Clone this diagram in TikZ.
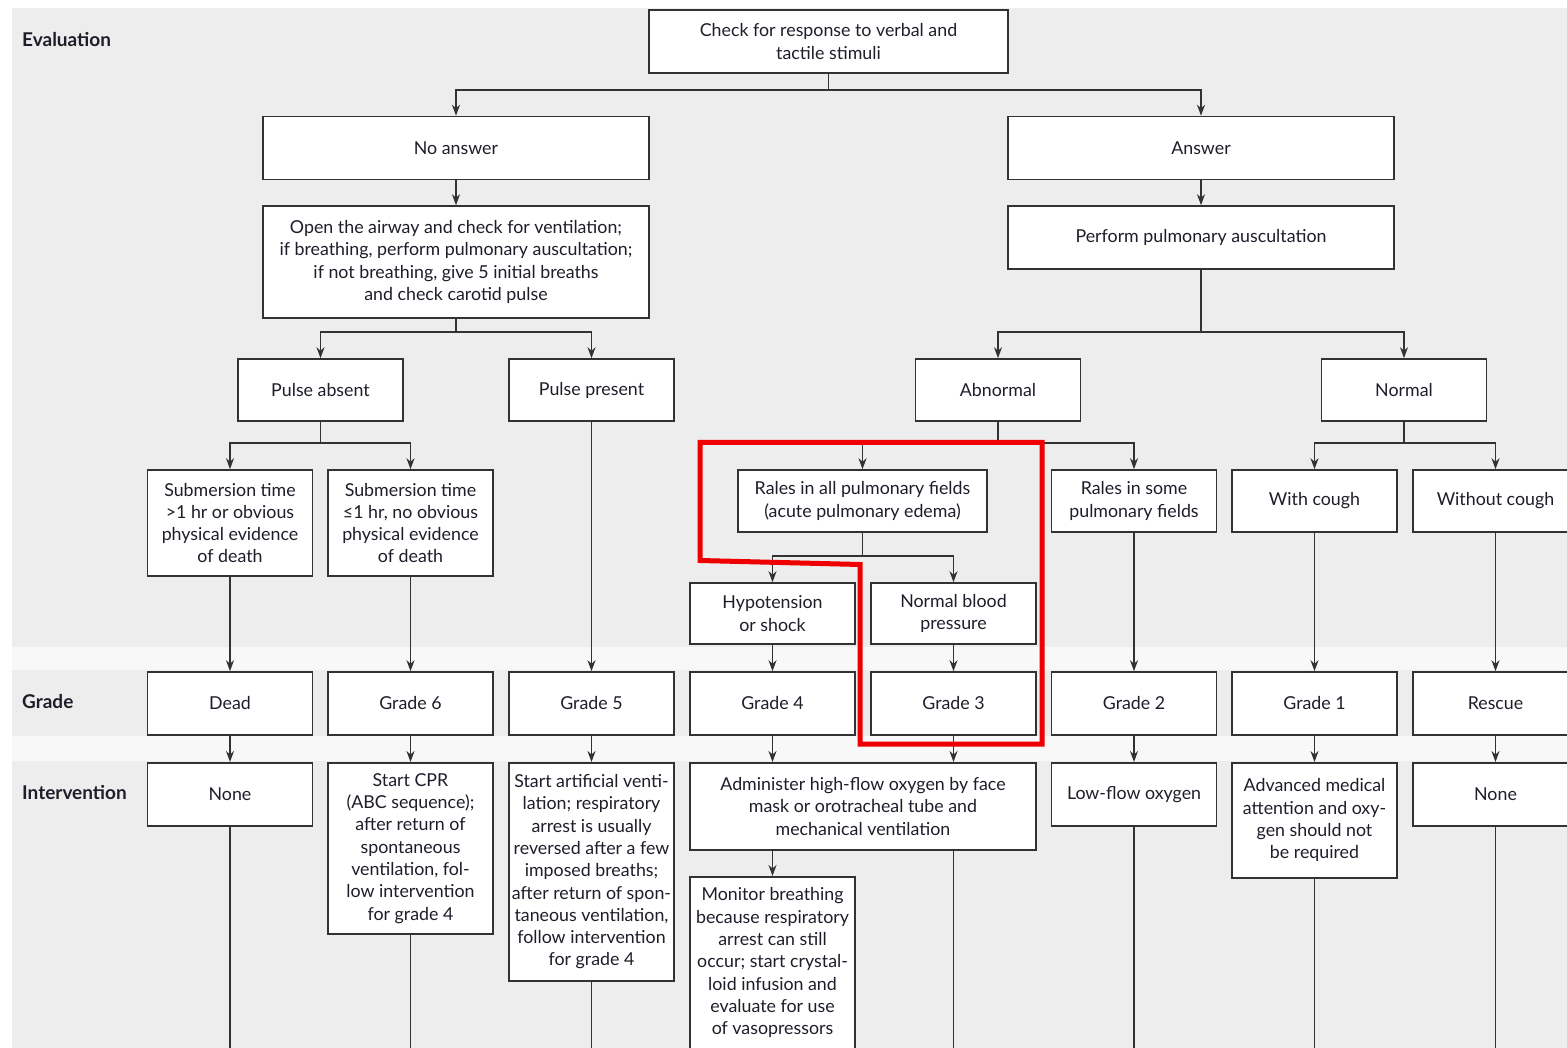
\documentclass[tikz,border=0pt]{standalone}
\usepackage{fontspec}
\setmainfont{Lato}
\usetikzlibrary{arrows.meta}
\definecolor{bggray}{RGB}{237,237,237}
\definecolor{bglight}{RGB}{248,248,248}
\definecolor{boxline}{RGB}{50,50,50}
\definecolor{inktext}{RGB}{30,30,42}
\definecolor{markred}{RGB}{238,0,0}

\begin{document}
\begin{tikzpicture}[x=1pt,y=-1pt,
        box/.style={draw=boxline,fill=white,line width=1.6pt,align=center,inner sep=0pt,
          text=inktext,font=\fontsize{17.8}{22.3}\selectfont},
        cell/.style={box,minimum width=165,minimum height=62},
        wide/.style={box,minimum width=386,minimum height=63},
        rowlabel/.style={anchor=west,inner sep=0pt,text=inktext,font=\fontsize{19}{22}\selectfont\bfseries},
        push/.style={draw=boxline,line width=1.6pt,-{Stealth[length=11pt,width=8pt]}},
        line/.style={draw=boxline,line width=1.6pt},
      ]
      \useasboundingbox (0,0) rectangle (1567,1048);
      \clip (0,0) rectangle (1567,1048);
      % background bands
      \fill[bggray] (12,8) rectangle (1567,1048);
      \fill[bglight] (12,647) rectangle (1567,670);
      \fill[bglight] (12,736) rectangle (1567,761);
      \coordinate (bottom) at (0,1048);
%
      \node[rowlabel] at (22,40) (Labeleval) {Evaluation};
      \node[rowlabel] at (22,702) (Labelgrade) {Grade};
      \node[rowlabel] at (22,793) (Labelinterv) {Intervention};
%
      \node[box,minimum width=359,minimum height=63] at (828.5,41.5) (check) {Check for response to verbal and\\tactile stimuli};
      \node[wide] at (456,148) (noanswer) {No answer};
      \node[wide] at (1201,148) (answer) {Answer};
      \node[wide,minimum height=112] at (456,262) (airway) {Open the airway and check for ventilation;\\if breathing, perform pulmonary auscultation;\\if not breathing, give 5 initial breaths\\and check carotid pulse};
      \node[wide] at (1201,237.5) (auscult) {Perform pulmonary auscultation};
%
      \node[cell] at (320.5,390) (pabsent) {Pulse absent};
      \node[cell] at (591.5,390) (ppresent) {Pulse present};
      \node[cell] at (998,390) (abnormal) {Abnormal};
      \node[cell] at (1404,390) (normal) {Normal};
%
      \node[cell,minimum height=106] at (230,523) (subover) {Submersion time\\>1 hr or obvious\\physical evidence\\of death};
      \node[cell,minimum height=106] at (410.5,523) (subunder) {Submersion time\\≤1 hr, no obvious\\physical evidence\\of death};
      \node[cell,minimum width=249] at (862.5,501) (ralesall) {Rales in all pulmonary fields\\(acute pulmonary edema)};
      \node[cell] at (1134,501) (ralessome) {Rales in some\\pulmonary fields};
      \node[cell] at (1314.5,501) (cough) {With cough};
      \node[cell] at (1495.5,501) (nocough) {Without cough};
%
      \node[cell,minimum height=61] at (772.5,613.5) (hypo) {Hypotension\\or shock};
      \node[cell,minimum height=61] at (953.5,613.5) (normbp) {Normal blood\\pressure};
%
      \node[cell,minimum height=63] at (230,703.5) (dead) {Dead};
      \node[cell,minimum height=63] at (410.5,703.5) (gsix) {Grade 6};
      \node[cell,minimum height=63] at (591.5,703.5) (gfive) {Grade 5};
      \node[cell,minimum height=63] at (772.5,703.5) (gfour) {Grade 4};
      \node[cell,minimum height=63] at (953.5,703.5) (gthree) {Grade 3};
      \node[cell,minimum height=63] at (1134,703.5) (gtwo) {Grade 2};
      \node[cell,minimum height=63] at (1314.5,703.5) (gone) {Grade 1};
      \node[cell,minimum height=63] at (1495.5,703.5) (rescue) {Rescue};
%
      \node[cell,anchor=north,minimum height=63] at (230,762) (noneleft) {None};
      \node[cell,anchor=north,minimum height=171] at (410.5,762) (cpr) {Start CPR\\(ABC sequence);\\after return of\\spontaneous\\ventilation, fol-\\low intervention\\for grade 4};
      \node[cell,anchor=north,minimum height=218] at (591.5,762) (artvent) {Start artificial venti-\\lation; respiratory\\arrest is usually\\reversed after a few\\imposed breaths;\\after return of spon-\\taneous ventilation,\\follow intervention\\for grade 4};
      \node[cell,anchor=north,minimum width=346,minimum height=87] at (863,762) (oxygen) {Administer high-flow oxygen by face\\mask or orotracheal tube and\\mechanical ventilation};
      \node[cell,anchor=north,minimum height=63] at (1134,762) (lowflow) {Low-flow oxygen};
      \node[cell,anchor=north,minimum height=115] at (1314.5,762) (advanced) {Advanced medical\\attention and oxy-\\gen should not\\be required};
      \node[cell,anchor=north,minimum height=63] at (1495.5,762) (noneright) {None};
      \node[cell,anchor=north,inner ysep=11pt,text depth=40pt] at (772.5,876) (monitor) {Monitor breathing\\because respiratory\\arrest can still\\occur; start crystal-\\loid infusion and\\evaluate for use\\of vasopressors};
%
      \path[push] (check.south) -- ++(0,16) -| (noanswer.north);
      \path[push] (check.south) -- ++(0,16) -| (answer.north);
      \path[push] (noanswer) -- (airway);
      \path[push] (answer) -- (auscult);
      \path[push] (airway.south) -- ++(0,13) -| (pabsent.north);
      \path[push] (airway.south) -- ++(0,13) -| (ppresent.north);
      \path[push] (auscult.south) -- ++(0,62) -| (abnormal.north);
      \path[push] (auscult.south) -- ++(0,62) -| (normal.north);
      \path[push] (pabsent.south) -- ++(0,21) -| (subover.north);
      \path[push] (pabsent.south) -- ++(0,21) -| (subunder.north);
      \path[push] (abnormal.south) -- ++(0,21) -| (ralesall.north);
      \path[push] (abnormal.south) -- ++(0,21) -| (ralessome.north);
      \path[push] (normal.south) -- ++(0,21) -| (cough.north);
      \path[push] (normal.south) -- ++(0,21) -| (nocough.north);
      \path[push] (ralesall.south) -- ++(0,23) -| (hypo.north);
      \path[push] (ralesall.south) -- ++(0,23) -| (normbp.north);
%
      \path[push] (subover) -- (dead);
      \path[push] (subunder) -- (gsix);
      \path[push] (ppresent) -- (gfive);
      \path[push] (hypo) -- (gfour);
      \path[push] (normbp) -- (gthree);
      \path[push] (ralessome) -- (gtwo);
      \path[push] (cough) -- (gone);
      \path[push] (nocough) -- (rescue);
%
      \path[push] (dead) -- (noneleft);
      \path[push] (gsix) -- (cpr);
      \path[push] (gfive) -- (artvent);
      \path[push] (gfour.south) -- (gfour.south |- oxygen.north);
      \path[push] (gthree.south) -- (gthree.south |- oxygen.north);
      \path[push] (gtwo) -- (lowflow);
      \path[push] (gone) -- (advanced);
      \path[push] (rescue) -- (noneright);
      \path[push] (oxygen.south -| monitor.north) -- (monitor.north);
%
      \path[line] (noneleft.south) -- (noneleft.south |- bottom);
      \path[line] (cpr.south) -- (cpr.south |- bottom);
      \path[line] (artvent.south) -- (artvent.south |- bottom);
      \path[line] (oxygen.south -| gthree.south) -- (gthree.south |- bottom);
      \path[line] (lowflow.south) -- (lowflow.south |- bottom);
      \path[line] (advanced.south) -- (advanced.south |- bottom);
      \path[line] (noneright.south) -- (noneright.south |- bottom);
%
      \draw[markred,line width=5pt] (700,442.5) -- (1042,442.5) -- (1042,744) -- (860,744) -- (860,564.5) -- (700,560.5) -- cycle;
    \end{tikzpicture}
\end{document}
